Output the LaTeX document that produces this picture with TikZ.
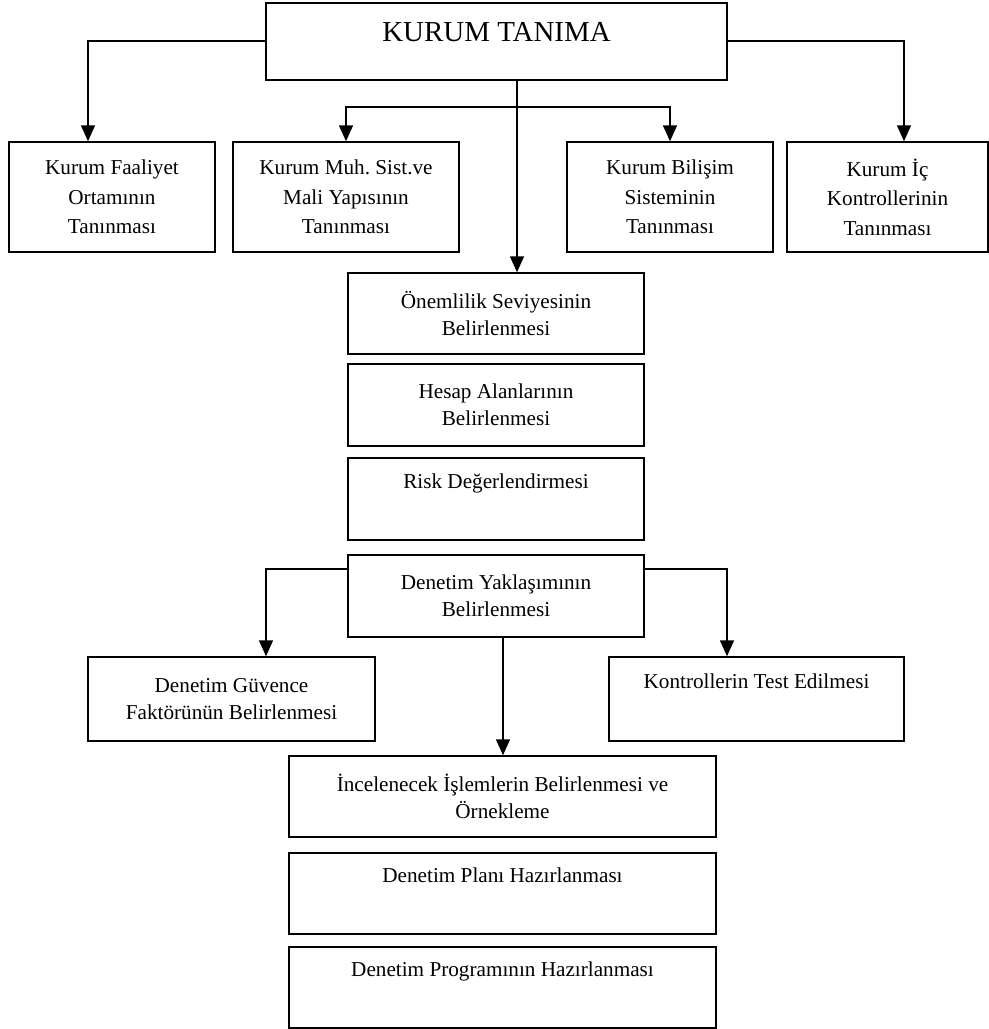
\documentclass[tikz,border=0pt]{standalone}
\usepackage{fontspec}
\setmainfont{Liberation Serif}
\usetikzlibrary{arrows.meta,positioning}
\frenchspacing

\tikzset{
  box/.style={draw,line width=1.1pt,align=center,inner sep=2pt,
    font=\fontsize{15.9}{20.5}\selectfont},
  tribox/.style={box,font=\fontsize{15.9}{22.1}\selectfont},
  topbox/.style={box,text height=12pt,text depth=28.5pt},
  arr/.style={-{Triangle[length=12pt,width=10.5pt]},line width=1.2pt}
}

\begin{document}
\begin{tikzpicture}[x=0.75pt,y=-0.75pt]
  \useasboundingbox (0,0) rectangle (989,1029);
  % first level
  \node[box,font=\fontsize{21.7}{26}\selectfont,text height=15pt,text depth=15pt,
    minimum width=345.75pt,minimum height=57.75pt] (kurum) at (496.5,41.5) {KURUM TANIMA};
  \node[tribox,minimum width=154.5pt,minimum height=82.5pt] (faal) at (112,197)
    {Kurum Faaliyet\\Ortamının\\Tanınması};
  \node[tribox,minimum width=169.5pt,minimum height=82.5pt] (muh) at (346,197)
    {Kurum Muh. Sist.ve\\Mali Yapısının\\Tanınması};
  \node[tribox,minimum width=154.5pt,minimum height=82.5pt] (bilisim) at (670,197)
    {Kurum Bilişim\\Sisteminin\\Tanınması};
  \node[tribox,minimum width=150.75pt,minimum height=82.5pt] (ic) at (887.5,197)
    {Kurum İç\\Kontrollerinin\\Tanınması};
  % middle column
  \node[box,minimum width=222pt,minimum height=60.75pt] (onem) at (496,313.5)
    {Önemlilik Seviyesinin\\Belirlenmesi};
  \node[box,minimum width=222pt,minimum height=61.5pt] (hesap) at (496,405)
    {Hesap Alanlarının\\Belirlenmesi};
  \node[topbox,minimum width=222pt,minimum height=61.5pt] (risk) at (496,499)
    {Risk Değerlendirmesi};
  \node[box,minimum width=222pt,minimum height=61.5pt] (yaklasim) at (496,596)
    {Denetim Yaklaşımının\\Belirlenmesi};
  % approach branches
  \node[box,minimum width=215.25pt,minimum height=63pt] (guvence) at (231.5,699)
    {Denetim Güvence\\Faktörünün Belirlenmesi};
  \node[topbox,minimum width=221.25pt,minimum height=63pt] (kontrol) at (756.5,699)
    {Kontrollerin Test Edilmesi};
  \node[box,minimum width=320.25pt,minimum height=60.75pt] (incele) at (502.5,796.5)
    {İncelenecek İşlemlerin Belirlenmesi ve\\Örnekleme};
  \node[topbox,minimum width=320.25pt,minimum height=60.75pt] (plan) at (502.5,893.5)
    {Denetim Planı Hazırlanması};
  \node[topbox,minimum width=320.25pt,minimum height=60.75pt] (program) at (502.5,987.5)
    {Denetim Programının Hazırlanması};

  % connectors
  \coordinate (split) at (517,107);
  \coordinate (down) at (503,700);
  \draw[arr] (kurum.west |- 0,41) -| (88,0 |- faal.north);
  \draw[arr] (kurum.east |- 0,41) -| (904,0 |- ic.north);
  \draw[arr] (split) -| (muh.north);
  \draw[arr] (split) -| (bilisim.north);
  \draw[arr] (split |- kurum.south) -- (split |- onem.north);
  \draw[arr] (yaklasim.west |- 0,569) -| (266,0 |- guvence.north);
  \draw[arr] (yaklasim.east |- 0,569) -| (727,0 |- kontrol.north);
  \draw[arr] (down |- yaklasim.south) -- (down |- incele.north);
\end{tikzpicture}
\end{document}
